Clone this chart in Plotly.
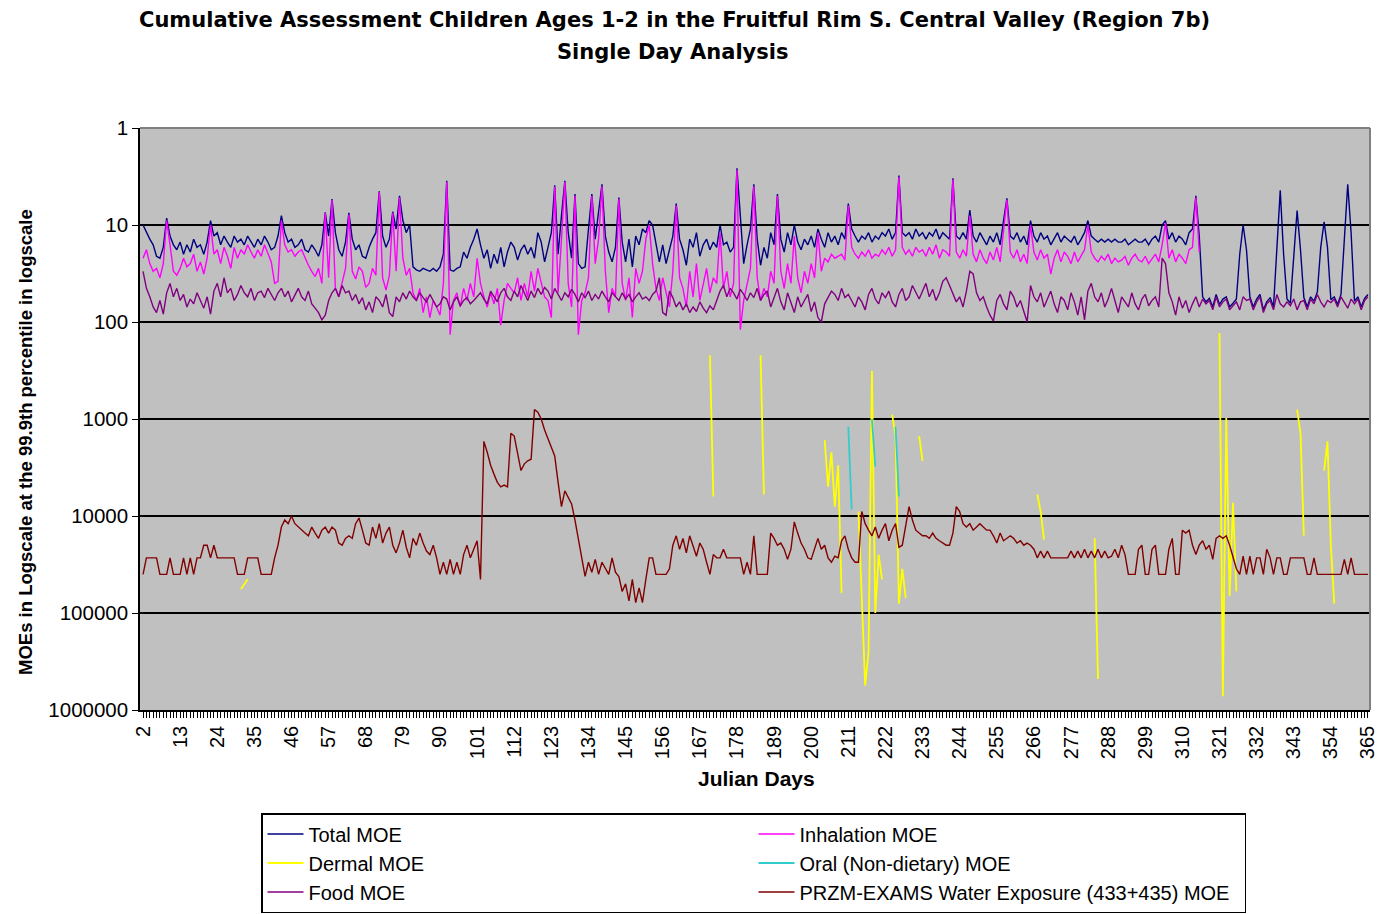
import plotly.graph_objects as go

# ---------------- data ----------------
days = list(range(2, 366))
tick_days = list(range(2, 366, 11))
y_ticks = [1, 10, 100, 1000, 10000, 100000, 1000000]

total_moe = [
    10, 12, 14, 16, 21, 22, 17, 8.5, 13, 16,
    18, 15, 20, 16, 19, 14, 17, 16, 20, 15,
    9, 13, 12, 16, 13, 15, 17, 13, 15, 14,
    16, 13, 15, 17, 14, 16, 13, 15, 18, 17,
    13, 8, 12, 15, 14, 17, 16, 14, 18, 19,
    16, 18, 21, 16, 7.4, 13, 5.4, 12, 18, 21,
    15, 7.5, 14, 18, 16, 21, 22, 17, 14, 12,
    4.5, 13, 17, 14, 7.3, 11, 5, 9, 12, 10,
    27, 29, 30, 28, 29, 30, 28, 30, 27, 20,
    3.5, 29, 30, 28, 27, 19, 22, 17, 14, 11,
    16, 22, 18, 28, 20, 25, 17, 27, 19, 15,
    17, 23, 18, 16, 20, 17, 22, 12, 15, 24,
    17, 12, 3.9, 20, 8, 3.5, 12, 22, 4.8, 25,
    28, 27, 11, 4.8, 14, 7, 3.8, 13, 19, 24,
    17, 5.2, 15, 24, 14, 27, 13, 16, 11, 12,
    9, 10, 15, 24, 16, 25, 18, 13, 6, 14,
    18, 26, 14, 17, 12, 21, 16, 14, 18, 15,
    17, 10, 16, 15, 19, 17, 2.6, 8, 25, 16,
    11, 3.8, 14, 26, 17, 22, 12, 16, 4.8, 14,
    19, 12, 16, 10, 15, 18, 14, 16, 13, 17,
    11, 14, 17, 12, 15, 13, 16, 12, 14, 6,
    11, 13, 15, 13, 14, 12, 15, 13, 14, 12,
    13, 11, 14, 12, 3.1, 12, 13, 12, 14, 11,
    13, 12, 14, 12, 13, 11, 14, 12, 13, 14,
    3.3, 13, 14, 12, 14, 7, 13, 15, 12, 14,
    16, 13, 15, 12, 16, 9, 5.3, 13, 14, 12,
    15, 13, 16, 9, 13, 15, 12, 14, 13, 16,
    14, 12, 15, 13, 14, 15, 13, 16, 14, 12,
    9, 13, 14, 15, 14, 15, 14, 15, 14, 15,
    15, 14, 16, 15, 14, 15, 15, 14, 16, 14,
    13, 15, 10, 9, 14, 12, 15, 13, 14, 16,
    12, 11, 5, 13, 55, 62, 57, 70, 52, 66,
    58, 55, 70, 64, 58, 20, 10, 18, 55, 70,
    58, 52, 75, 62, 56, 70, 20, 4.4, 20, 58,
    64, 22, 7.1, 18, 56, 70, 55, 61, 49, 17,
    9.3, 17, 59, 55, 66, 52, 12, 3.8, 12, 61,
    55, 70, 57, 52,
]

inhalation_moe = [
    22, 18, 25, 30, 28, 35, 25, 9, 16, 30,
    33, 28, 22, 27, 25, 20, 30, 24, 32, 22,
    10, 20, 18, 25, 17, 21, 28, 17, 22, 18,
    20, 16, 19, 22, 18, 21, 16, 20, 24, 40,
    38, 9, 16, 19, 18, 21, 19, 18, 22, 26,
    30, 34, 28, 40, 7.5, 35, 5.5, 45, 55, 40,
    28, 7.8, 30, 36, 27, 30, 44, 40, 28, 33,
    4.6, 35, 47, 33, 7.5, 30, 5.2, 22, 33, 28,
    50, 60, 45, 80, 55, 90, 60, 70, 85, 40,
    3.6, 135, 60, 50, 70, 45, 60, 40, 55, 22,
    40, 55, 70, 50, 65, 45, 108, 60, 40, 45,
    50, 35, 60, 40, 55, 30, 48, 28, 40, 55,
    60, 90, 4.0, 50, 14, 3.6, 40, 70, 5.0, 135,
    60, 50, 35, 5.0, 25, 14, 4.0, 30, 80, 45,
    55, 5.4, 40, 60, 35, 90, 28, 40, 30, 14,
    10, 25, 45, 60, 35, 50, 70, 30, 6.3, 35,
    45, 70, 30, 55, 25, 60, 40, 28, 50, 35,
    40, 12, 45, 30, 55, 40, 2.7, 120, 60, 40,
    28, 4.0, 35, 60, 45, 55, 30, 40, 5.0, 30,
    45, 25, 40, 13, 35, 50, 30, 40, 25, 35,
    12, 30, 22, 24, 20, 22, 21, 20, 23, 6.3,
    17, 20, 22, 19, 21, 18, 22, 20, 21, 18,
    20, 17, 21, 18, 3.2, 17, 20, 18, 21, 17,
    19, 18, 21, 17, 20, 16, 22, 18, 19, 21,
    3.4, 19, 22, 18, 21, 8, 20, 24, 18, 22,
    25, 19, 23, 17, 24, 11, 5.5, 19, 22, 18,
    24, 20, 25, 10, 19, 23, 18, 22, 20, 32,
    22, 18, 24, 19, 21, 25, 19, 24, 21, 18,
    10, 19, 22, 24, 21, 23, 20, 25, 22, 24,
    23, 21, 26, 22, 20, 23, 24, 21, 25, 22,
    20, 24, 16, 9.5, 22, 18, 24, 20, 22, 25,
    18, 17, 5.2, 19,
] + [None] * 50

food_moe = [
    30, 45, 55, 70, 80, 60, 83, 50, 40, 55,
    45, 60, 52, 70, 58, 65, 50, 60, 72, 55,
    83, 48, 40, 55, 35, 50, 45, 60, 52, 42,
    50, 55, 45, 60, 50, 48, 56, 45, 52, 60,
    50, 45, 55, 48, 62, 52, 45, 55, 60, 48,
    65, 72, 80, 95, 85, 60, 50, 45, 55, 42,
    50, 48, 60, 52, 65, 56, 75, 62, 80, 55,
    60, 70, 52, 80, 88, 55, 62, 50, 58, 48,
    55, 60, 50, 56, 62, 52, 60, 70, 65, 55,
    58, 75, 62, 55, 68, 60, 56, 65, 60, 55,
    50, 58, 65, 48, 55, 62, 50, 45, 55, 60,
    48, 55, 42, 50, 60, 48, 56, 45, 52, 44,
    48, 58, 45, 52, 60, 50, 55, 46, 52, 62,
    50, 56, 48, 60, 52, 58, 48, 55, 62, 50,
    55, 60, 50, 58, 52, 62, 55, 50, 58, 55,
    60, 52, 48, 35, 80, 85, 48, 56, 70, 62,
    75, 65, 80, 70, 78, 62, 72, 80, 68, 75,
    60, 48, 42, 55, 45, 50, 58, 46, 52, 60,
    50, 56, 45, 60, 52, 48, 70, 55, 45, 62,
    75, 50, 62, 80, 55, 70, 60, 52, 78, 62,
    90, 100, 65, 55, 48, 52, 60, 45, 56, 52,
    60, 70, 55, 62, 75, 52, 45, 58, 65, 50,
    56, 48, 62, 70, 52, 45, 60, 55, 42, 50,
    58, 48, 40, 55, 46, 60, 50, 38, 35, 42,
    50, 62, 55, 70, 48, 30, 32, 50, 60, 55,
    70, 85, 98, 60, 52, 65, 75, 48, 55, 70,
    60, 80, 100, 42, 55, 62, 50, 70, 58, 48,
    65, 80, 55, 60, 75, 50, 62, 85, 55, 95,
    48, 40, 55, 62, 50, 70, 58, 45, 60, 80,
    55, 62, 70, 50, 65, 75, 58, 52, 68, 60,
    55, 70, 22, 25, 50, 62, 85, 55, 72, 60,
    80, 65, 55, 70, 58, 65, 60, 75, 55, 70,
    62, 58, 75, 68, 62, 75, 55, 60, 58, 75,
    62, 55, 80, 65, 60, 75, 52, 65, 70, 62,
    68, 58, 75, 62, 60, 75, 58, 65, 52, 62,
    70, 60, 63, 58, 70, 55, 62, 72, 58, 65,
    58, 75, 60, 55,
]

water_moe = [
    40000, 27000, 27000, 27000, 27000, 40000, 40000, 40000, 27000, 40000,
    40000, 40000, 27000, 40000, 27000, 40000, 27000, 27000, 20000, 20000,
    27000, 20000, 27000, 27000, 27000, 27000, 27000, 27000, 40000, 40000,
    40000, 27000, 27000, 27000, 27000, 40000, 40000, 40000, 40000, 27000,
    20000, 13000, 11000, 12000, 10000, 12000, 13000, 14000, 15000, 16000,
    13000, 15000, 17000, 14000, 13000, 15000, 13000, 14000, 19000, 20000,
    17000, 16000, 17000, 12000, 10500, 14000, 19000, 20000, 13000, 17000,
    12000, 19000, 15000, 13000, 20000, 24000, 19000, 14000, 21000, 27000,
    17000, 20000, 15000, 19000, 23000, 25000, 20000, 27000, 40000, 30000,
    40000, 28000, 40000, 30000, 40000, 25000, 20000, 27000, 22000, 18000,
    45000, 1700, 2200, 3000, 3700, 4500, 5000, 4800, 5000, 1400,
    1500, 2200, 3400, 2900, 2700, 2600, 800, 850, 1000, 1300,
    1600, 1900, 2400, 4500, 8000, 5500, 6500, 7500, 11000, 17000,
    25000, 42000, 30000, 38000, 28000, 40000, 30000, 35000, 40000, 27000,
    38000, 42000, 60000, 50000, 75000, 45000, 78000, 55000, 78000, 45000,
    27000, 27000, 40000, 40000, 40000, 40000, 35000, 20000, 16000, 22000,
    17000, 24000, 16000, 20000, 26000, 19000, 22000, 30000, 40000, 25000,
    27000, 27000, 22000, 27000, 27000, 27000, 27000, 27000, 40000, 30000,
    40000, 16000, 40000, 40000, 40000, 40000, 15000, 17000, 20000, 19000,
    22000, 28000, 22000, 11500, 15000, 19000, 22000, 27000, 28000, 22000,
    17000, 22000, 20000, 27000, 30000, 26000, 27000, 18000, 16000, 22000,
    27000, 30000, 30000, 9000, 12000, 14000, 16000, 13000, 17000, 14000,
    12000, 18000, 14000, 12000, 21000, 20000, 12000, 8000, 11000, 14000,
    15000, 16000, 16000, 17000, 15000, 17000, 18000, 19000, 20000, 20000,
    15000, 8000, 9000, 12000, 13000, 12000, 14000, 13000, 12000, 13000,
    14000, 14000, 16000, 19000, 15000, 18000, 17000, 16000, 17000, 19000,
    18000, 20000, 19000, 20000, 22000, 27000, 23000, 27000, 23000, 27000,
    27000, 27000, 27000, 27000, 27000, 23000, 27000, 23000, 27000, 22000,
    27000, 23000, 27000, 22000, 27000, 23000, 27000, 26000, 22000, 27000,
    20000, 25000, 40000, 40000, 40000, 22000, 20000, 40000, 40000, 22000,
    20000, 40000, 40000, 40000, 22000, 17000, 40000, 40000, 14000, 15000,
    14000, 20000, 25000, 20000, 18000, 22000, 20000, 28000, 17000, 16000,
    17000, 16000, 20000, 26000, 35000, 40000, 26000, 40000, 26000, 40000,
    27000, 27000, 40000, 22000, 27000, 40000, 27000, 27000, 40000, 40000,
    27000, 27000, 27000, 27000, 27000, 40000, 40000, 27000, 40000, 40000,
    40000, 40000, 40000, 40000, 40000, 40000, 28000, 40000, 27000, 40000,
    40000, 40000, 40000, 40000,
]

dermal_days = [31, 32, 33,
               170, 171,
               185, 186,
               204, 205, 206, 207, 208, 209,
               214, 215, 216, 217, 218, 219, 220, 221,
               224, 225, 226, 227, 228,
               232, 233,
               267, 268, 269,
               284, 285,
               321, 322, 323, 324, 325, 326,
               344, 345, 346,
               352, 353, 354, 355]
dermal_vals = [57000, 50000, 45000,
               220, 6300,
               220, 6000,
               1650, 5000, 2200, 8000, 3000, 62000,
               9000, 60000, 560000, 250000, 320, 100000, 25000, 45000,
               900, 1500, 80000, 35000, 70000,
               1500, 2700,
               6000, 9000, 17500,
               17000, 480000,
               130, 720000, 975, 67000, 7300, 60000,
               800, 1400, 16000,
               3400, 1700, 20000, 80000]

oral_days = [211, 212, 218, 219, 225, 226]
oral_vals = [1200, 8600, 1000, 3100, 1200, 6300]


def on_days(sel_days, sel_vals):
    out = [None] * len(days)
    for d, v in zip(sel_days, sel_vals):
        out[d - days[0]] = v
    return out


dermal_moe = on_days(dermal_days, dermal_vals)
oral_moe = on_days(oral_days, oral_vals)

# ---------------- figure ----------------
FONT = "Liberation Sans, Arial, sans-serif"
WIDE = "DejaVu Sans, Verdana, sans-serif"

series = [
    ("Total MOE", total_moe, "#000080", 1.4),
    ("Inhalation MOE", inhalation_moe, "#FF00FF", 1.4),
    ("Dermal MOE", dermal_moe, "#FFFF00", 1.8),
    ("Oral (Non-dietary) MOE", oral_moe, "#33CCCC", 1.8),
    ("Food MOE", food_moe, "#800080", 1.4),
    ("PRZM-EXAMS Water Exposure (433+435) MOE", water_moe, "#800000", 1.4),
]

fig = go.Figure()
for name, vals, color, w in series:
    fig.add_trace(go.Scatter(
        x=days, y=vals, mode="lines", name=name,
        line=dict(color=color, width=w),
        connectgaps=False,
    ))

fig.update_layout(
    width=1380, height=914,
    margin=dict(l=140, r=10, t=128, b=204, autoexpand=False),
    paper_bgcolor="white",
    plot_bgcolor="#C0C0C0",
    font=dict(family=FONT, color="black"),
    showlegend=True,
    legend=dict(
        orientation="h",
        x=(261 - 140) / 1230, xanchor="left",
        y=(710 - 813) / 582, yanchor="top",
        entrywidth=440, entrywidthmode="pixels",
        itemwidth=36,
        bgcolor="white", bordercolor="black", borderwidth=1.5,
        font=dict(family=FONT, size=20, color="black"),
        traceorder="normal",
    ),
    xaxis=dict(
        range=[1.1, 365.6],
        automargin=False,
        tickmode="array", tickvals=tick_days,
        ticktext=[str(d) for d in tick_days],
        tickangle=-90,
        tickfont=dict(family=FONT, size=20, color="black"),
        ticks="outside", ticklen=6, tickcolor="black", tickwidth=1,
        minor=dict(dtick=1, tick0=2, ticks="outside", ticklen=6,
                   tickcolor="black", tickwidth=1, showgrid=False),
        showline=True, linecolor="black", linewidth=1.5,
        showgrid=False, zeroline=False,
    ),
    yaxis=dict(
        type="log", range=[6, 0],
        automargin=False,
        tickmode="array", tickvals=y_ticks,
        ticktext=[str(v) for v in y_ticks],
        tickfont=dict(family=FONT, size=20.5, color="black"),
        ticks="outside", ticklen=6, tickcolor="black",
        showline=True, linecolor="black", linewidth=1.5,
        showgrid=True, gridcolor="black", gridwidth=1.5,
        zeroline=False,
    ),
    shapes=[
        dict(type="line", xref="paper", yref="paper", x0=0, x1=1, y0=1, y1=1,
             line=dict(color="#808080", width=2), layer="above"),
        dict(type="line", xref="paper", yref="paper", x0=1, x1=1, y0=0, y1=1,
             line=dict(color="#808080", width=2), layer="above"),
    ],
    annotations=[
        dict(text="<b>Cumulative Assessment Children Ages 1-2 in the Fruitful Rim S. Central Valley (Region 7b)</b>",
             xref="paper", yref="paper", x=(674 - 140) / 1230, y=(710 - 20) / 582,
             xanchor="center", yanchor="middle", showarrow=False,
             font=dict(family=WIDE, size=21, color="black")),
        dict(text="<b>Single Day Analysis</b>",
             xref="paper", yref="paper", x=(672 - 140) / 1230, y=(710 - 52) / 582,
             xanchor="center", yanchor="middle", showarrow=False,
             font=dict(family=WIDE, size=21, color="black")),
        dict(text="<b>MOEs in Logscale at the 99.9th percentile in logscale</b>",
             xref="paper", yref="paper", x=(25 - 140) / 1230, y=(710 - 442) / 582,
             xanchor="center", yanchor="middle", textangle=-90, showarrow=False,
             font=dict(family=FONT, size=18.5, color="black")),
        dict(text="<b>Julian Days</b>",
             xref="paper", yref="paper", x=(756 - 140) / 1230, y=(710 - 778) / 582,
             xanchor="center", yanchor="middle", showarrow=False,
             font=dict(family=FONT, size=21, color="black")),
    ],
)

fig.write_html("out.html", config={"displayModeBar": False},
               post_script="document.body.style.margin='0px';")
